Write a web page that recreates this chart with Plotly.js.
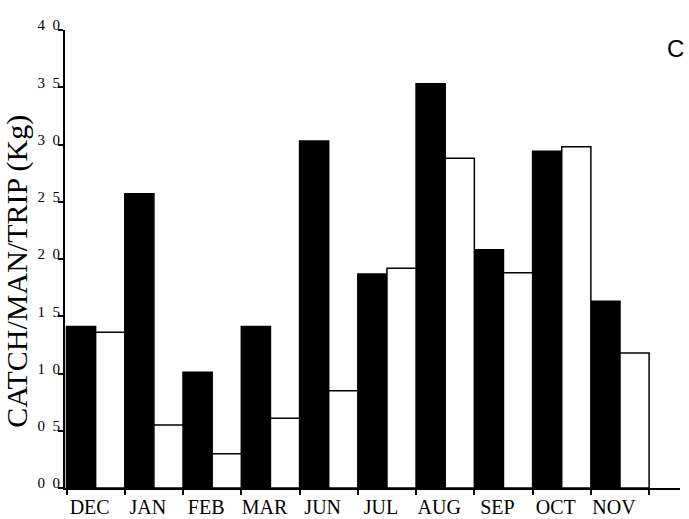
<!DOCTYPE html>
<html>
<head>
<meta charset="utf-8">
<script src="https://cdn.plot.ly/plotly-3.0.1.min.js"></script>
<style>
  html, body { margin: 0; padding: 0; background: #fff; }
  #chart { width: 689px; height: 519px; }
</style>
</head>
<body>
<div id="chart"></div>
<script>
// Monthly catch per man per trip (kg), two series per month
const months = ["DEC", "JAN", "FEB", "MAR", "JUN", "JUL", "AUG", "SEP", "OCT", "NOV"];
const seriesFilled = [1.41, 2.57, 1.01, 1.41, 3.03, 1.87, 3.53, 2.08, 2.94, 1.63];
const seriesOpen   = [1.36, 0.55, 0.30, 0.61, 0.85, 1.92, 2.88, 1.88, 2.98, 1.18];
const yTickVals = [0, 0.5, 1.0, 1.5, 2.0, 2.5, 3.0, 3.5, 4.0];
const yTickText = ["0\u00A0\u00A00", "0\u00A0\u00A05", "1\u00A0\u00A00", "1\u00A0\u00A05",
                   "2\u00A0\u00A00", "2\u00A0\u00A05", "3\u00A0\u00A00", "3\u00A0\u00A05", "4\u00A0\u00A00"];

const serif = "Liberation Serif, Times New Roman, serif";

const traces = [
  {
    type: "bar",
    x: months,
    y: seriesFilled,
    marker: { color: "#000000", line: { color: "#000000", width: 1.5 } },
    hoverinfo: "x+y",
    showlegend: false
  },
  {
    type: "bar",
    x: months,
    y: seriesOpen,
    marker: { color: "#ffffff", line: { color: "#000000", width: 1.5 } },
    hoverinfo: "x+y",
    showlegend: false
  }
];

const layout = {
  width: 689,
  height: 519,
  margin: { l: 65, r: 9, t: 30, b: 31 },
  paper_bgcolor: "#ffffff",
  plot_bgcolor: "#ffffff",
  barmode: "group",
  bargap: 0,
  bargroupgap: 0,
  xaxis: {
    type: "category",
    range: [-0.526, 10.03],
    showline: true,
    linecolor: "#000000",
    linewidth: 2,
    ticks: "outside",
    tickson: "boundaries",
    ticklen: 5,
    tickwidth: 2,
    tickcolor: "#000000",
    showgrid: false,
    zeroline: false,
    ticklabelshift: -6,
    tickfont: { family: serif, size: 20, color: "#000000" }
  },
  yaxis: {
    range: [0, 4.0],
    tickvals: yTickVals,
    ticktext: yTickText,
    showline: true,
    linecolor: "#000000",
    linewidth: 2,
    ticks: "outside",
    ticklen: 5,
    tickwidth: 2,
    tickcolor: "#000000",
    showgrid: false,
    zeroline: false,
    ticklabelshift: -5,
    ticklabelstandoff: -5,
    tickfont: { family: serif, size: 15, color: "#000000" }
  },
  annotations: [
    {
      text: "CATCH/MAN/TRIP (Kg)",
      xref: "paper", yref: "paper",
      x: -0.078, y: 0.472,
      xanchor: "center", yanchor: "middle",
      textangle: -90,
      showarrow: false,
      font: { family: serif, size: 30, color: "#000000" }
    },
    {
      text: "C",
      xref: "paper", yref: "paper",
      x: 0.993, y: 0.96,
      xanchor: "center", yanchor: "middle",
      showarrow: false,
      font: { family: "Liberation Sans, Arial, sans-serif", size: 24, color: "#000000" }
    }
  ]
};

Plotly.newPlot("chart", traces, layout, { displayModeBar: false, staticPlot: true });
</script>
</body>
</html>
